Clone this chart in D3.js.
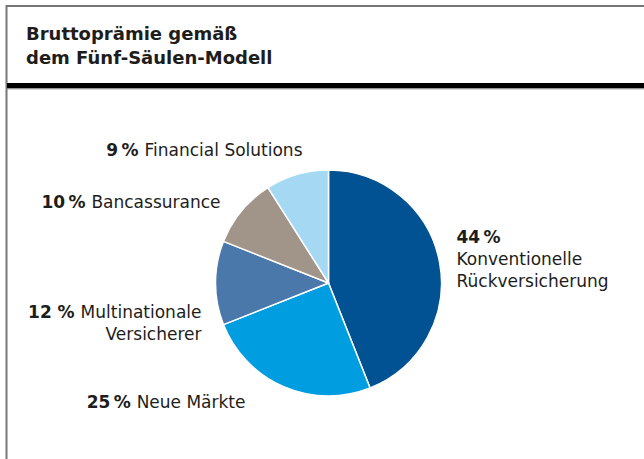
<!DOCTYPE html>
<html><head><meta charset="utf-8">
<script src="https://cdn.jsdelivr.net/npm/d3@7"></script>
<style>
html,body{margin:0;padding:0;background:#fff;}
svg{display:block;font-family:"DejaVu Sans", sans-serif;}
</style></head>
<body>
<svg id="chart" width="644" height="459"></svg>
<script>
// ---- data ----
const titleLines = ["Bruttoprämie gemäß", "dem Fünf-Säulen-Modell"];
const categories = ["Konventionelle Rückversicherung", "Neue Märkte", "Multinationale Versicherer", "Bancassurance", "Financial Solutions"];
const values = [44, 25, 12, 10, 9];
const pctLabels = ["44\u2009%", "25\u2009%", "12 %", "10\u2009%", "9\u2009%"];
const labelLines = [["Konventionelle", "Rückversicherung"], ["Neue Märkte"], ["Multinationale", "Versicherer"], ["Bancassurance"], ["Financial Solutions"]];
const colors = ["#005292", "#009ee0", "#4a78ab", "#a19589", "#a5d9f3"];

// ---- layout ----
const W = 644, H = 459;
const cx = 328.5, cy = 283, R = 113;
const labelLayout = [
  {dx: 128, dy: -40, anchor: "start", pctSeparate: true},
  {dx: -83, dy: 125, anchor: "end", pctSeparate: false},
  {dx: -127, dy: 35, anchor: "end", pctSeparate: false},
  {dx: -108, dy: -75, anchor: "end", pctSeparate: false},
  {dx: -26, dy: -127, anchor: "end", pctSeparate: false}
];
const lineH = 22;
const textColor = "#1d1d1b";

const svg = d3.select("#chart");

// frame
svg.append("line").attr("x1", 6.5).attr("x2", 6.5).attr("y1", 5).attr("y2", H).attr("stroke", "#777").attr("stroke-width", 2);
svg.append("line").attr("x1", 6).attr("x2", W).attr("y1", 6).attr("y2", 6).attr("stroke", "#777").attr("stroke-width", 2);
svg.append("rect").attr("x", 7).attr("y", 83).attr("width", W - 7).attr("height", 5.5).attr("fill", "#000");
svg.append("line").attr("x1", 7).attr("x2", W).attr("y1", 89).attr("y2", 89).attr("stroke", "#aaa").attr("stroke-width", 1);

// title
const title = svg.append("text").attr("x", 26).attr("y", 40)
  .attr("font-size", 18).attr("font-weight", "bold").attr("fill", textColor);
titleLines.forEach((t, i) => title.append("tspan").attr("x", 26).attr("dy", i === 0 ? 0 : 24).text(t));

// pie
const data = categories.map((c, i) => ({cat: c, value: values[i], i}));
const pie = d3.pie().value(d => d.value).sort(null).startAngle(0).endAngle(2 * Math.PI);
const arc = d3.arc().innerRadius(0).outerRadius(R);
const g = svg.append("g").attr("transform", `translate(${cx},${cy})`);
g.selectAll("path").data(pie(data)).join("path")
  .attr("d", arc)
  .attr("fill", d => colors[d.data.i])
  .attr("stroke", "#fff").attr("stroke-width", 1.5).attr("stroke-linejoin", "round");

// labels
data.forEach((d, i) => {
  const L = labelLayout[i];
  const t = g.append("text").attr("text-anchor", L.anchor)
    .attr("font-size", 17).attr("fill", textColor)
    .attr("transform", `translate(${L.dx},${L.dy})`);
  let lines = labelLines[i];
  if (L.pctSeparate) {
    t.append("tspan").attr("x", 0).attr("dy", 0).attr("font-weight", "bold").text(pctLabels[i]);
    lines.forEach(l => t.append("tspan").attr("x", 0).attr("dy", lineH).text(l));
  } else {
    const first = t.append("tspan").attr("x", 0).attr("dy", 0);
    first.append("tspan").attr("font-weight", "bold").text(pctLabels[i] + " ");
    first.append("tspan").text(lines[0]);
    lines.slice(1).forEach(l => t.append("tspan").attr("x", 0).attr("dy", lineH).text(l));
  }
});
</script>
</body></html>
